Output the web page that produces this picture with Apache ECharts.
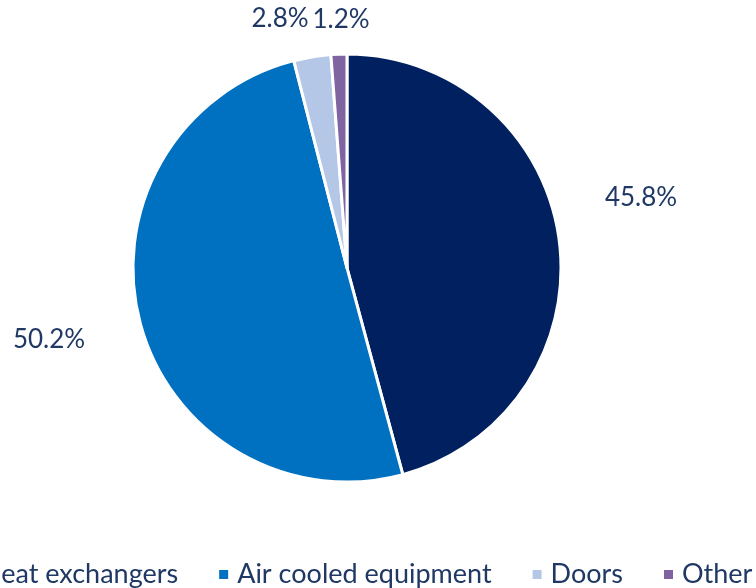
<!DOCTYPE html>
<html>
<head>
<meta charset="utf-8">
<script src="https://cdn.jsdelivr.net/npm/echarts@6/dist/echarts.min.js"></script>
<style>
  html, body { margin: 0; padding: 0; background: #fff; }
  #chart { width: 756px; height: 588px; }
</style>
</head>
<body>
<div id="chart"></div>
<script>
const categories = ['Heat exchangers', 'Air cooled equipment', 'Doors', 'Other'];
const shares = [45.8, 50.2, 2.8, 1.2];
const colors = ['#002060', '#0070C0', '#B4C7E7', '#8064A2'];

// where the Excel-style labels sit (label centres, px)
const labelPos = [[641, 198], [49, 340], [280, 19], [341, 20]];

const chart = echarts.init(document.getElementById('chart'));

chart.setOption({
  backgroundColor: '#fff',
  color: colors,
  animation: false,
  legend: {
    data: categories,
    left: -44,
    top: 556,
    width: 1000,
    icon: 'rect',
    itemWidth: 11,
    itemHeight: 11,
    itemGap: 39,
    textStyle: { fontFamily: 'Lato', fontSize: 27, color: '#1F3864', padding: [0, 0, 0, 3] }
  },
  series: [{
    type: 'pie',
    center: [347, 268],
    radius: 214,
    startAngle: 90,
    clockwise: true,
    itemStyle: { borderColor: '#fff', borderWidth: 3 },
    label: {
      show: true,
      position: 'outside',
      formatter: p => p.value.toFixed(1) + '%',
      fontFamily: 'Lato',
      fontSize: 26,
      color: '#1F3864'
    },
    labelLine: { show: false },
    labelLayout: p => ({
      x: labelPos[p.dataIndex][0],
      y: labelPos[p.dataIndex][1],
      align: 'center',
      verticalAlign: 'middle'
    }),
    emphasis: { disabled: true },
    data: categories.map((c, i) => ({ name: c, value: shares[i] }))
  }]
});
</script>
</body>
</html>
